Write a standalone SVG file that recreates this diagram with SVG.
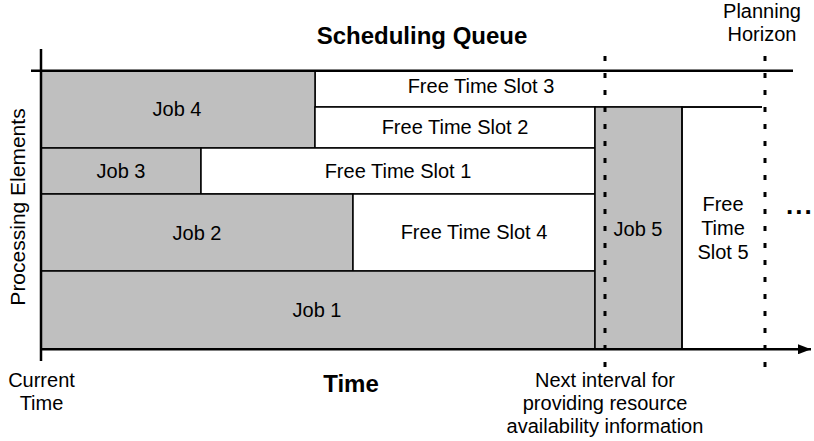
<svg xmlns="http://www.w3.org/2000/svg" width="814" height="441" viewBox="0 0 814 441">
<defs>
<marker id="arrow" markerWidth="13" markerHeight="10" refX="13" refY="5" orient="auto" markerUnits="userSpaceOnUse"><path d="M0,0 L13,5 L0,10 Z" fill="#000"/></marker>
</defs>
<style>
.job{fill:#bfbfbf;stroke:#000;stroke-width:1.5}
.slot{fill:#fff;stroke:#000;stroke-width:1.5}
.open{fill:none;stroke:#000;stroke-width:1.5}
text{font-family:"Liberation Sans",Arial,Helvetica,sans-serif;font-size:20px;fill:#000;text-anchor:middle}
.bold{font-weight:bold;font-size:24px}
.axis{stroke:#000;stroke-width:2.5;fill:none}
.dot{stroke:#000;stroke-width:3;stroke-dasharray:5 12;fill:none}
</style>
<rect width="814" height="441" fill="#fff"/>

<g id="slot3">
<path class="open" d="M315,71 V107 H762"/>
<text x="481" y="93">Free Time Slot 3</text>
</g>
<g id="job4">
<rect class="job" x="41" y="71" width="274" height="77"/>
<text x="177" y="116">Job 4</text>
</g>
<g id="slot2">
<rect class="slot" x="315" y="107" width="280" height="41"/>
<text x="455" y="134">Free Time Slot 2</text>
</g>
<g id="job3">
<rect class="job" x="41" y="148" width="160" height="46"/>
<text x="121" y="178">Job 3</text>
</g>
<g id="slot1">
<rect class="slot" x="201" y="148" width="394" height="46"/>
<text x="398" y="178">Free Time Slot 1</text>
</g>
<g id="job2">
<rect class="job" x="41" y="194" width="312" height="77"/>
<text x="197" y="240">Job 2</text>
</g>
<g id="slot4">
<rect class="slot" x="353" y="194" width="242" height="77"/>
<text x="474" y="239">Free Time Slot 4</text>
</g>
<g id="job1">
<rect class="job" x="41" y="271" width="554" height="78"/>
<text x="317" y="317">Job 1</text>
</g>
<g id="job5">
<rect class="job" x="595" y="107" width="87" height="242"/>
<text x="638" y="236">Job 5</text>
</g>
<g id="slot5">
<path class="open" d="M682,349 V107 H762"/>
<text x="723" y="211">Free</text>
<text x="723" y="235">Time</text>
<text x="723" y="259">Slot 5</text>
</g>

<g id="connectors">
<path class="axis" d="M41,49 V361"/>
<path class="axis" d="M31,70.7 H793"/>
<path class="axis" d="M41,349.3 H811" marker-end="url(#arrow)"/>
<path class="dot" d="M605,56 V368"/>
<path class="dot" d="M765,56 V368"/>
</g>

<g id="labels">
<text class="bold" x="422" y="44">Scheduling Queue</text>
<text class="bold" x="351" y="392">Time</text>
<text x="762" y="18">Planning</text>
<text x="762" y="41">Horizon</text>
<text x="41.5" y="387">Current</text>
<text x="41.5" y="410">Time</text>
<text x="605" y="387">Next interval for</text>
<text x="605" y="410">providing resource</text>
<text x="605" y="433">availability information</text>
<text x="25" y="207" transform="rotate(-90 25 207)" style="font-size:21px">Processing Elements</text>
<text x="786" y="214" style="text-anchor:start;font-weight:bold;font-size:26px;letter-spacing:2px">...</text>
</g>
</svg>
